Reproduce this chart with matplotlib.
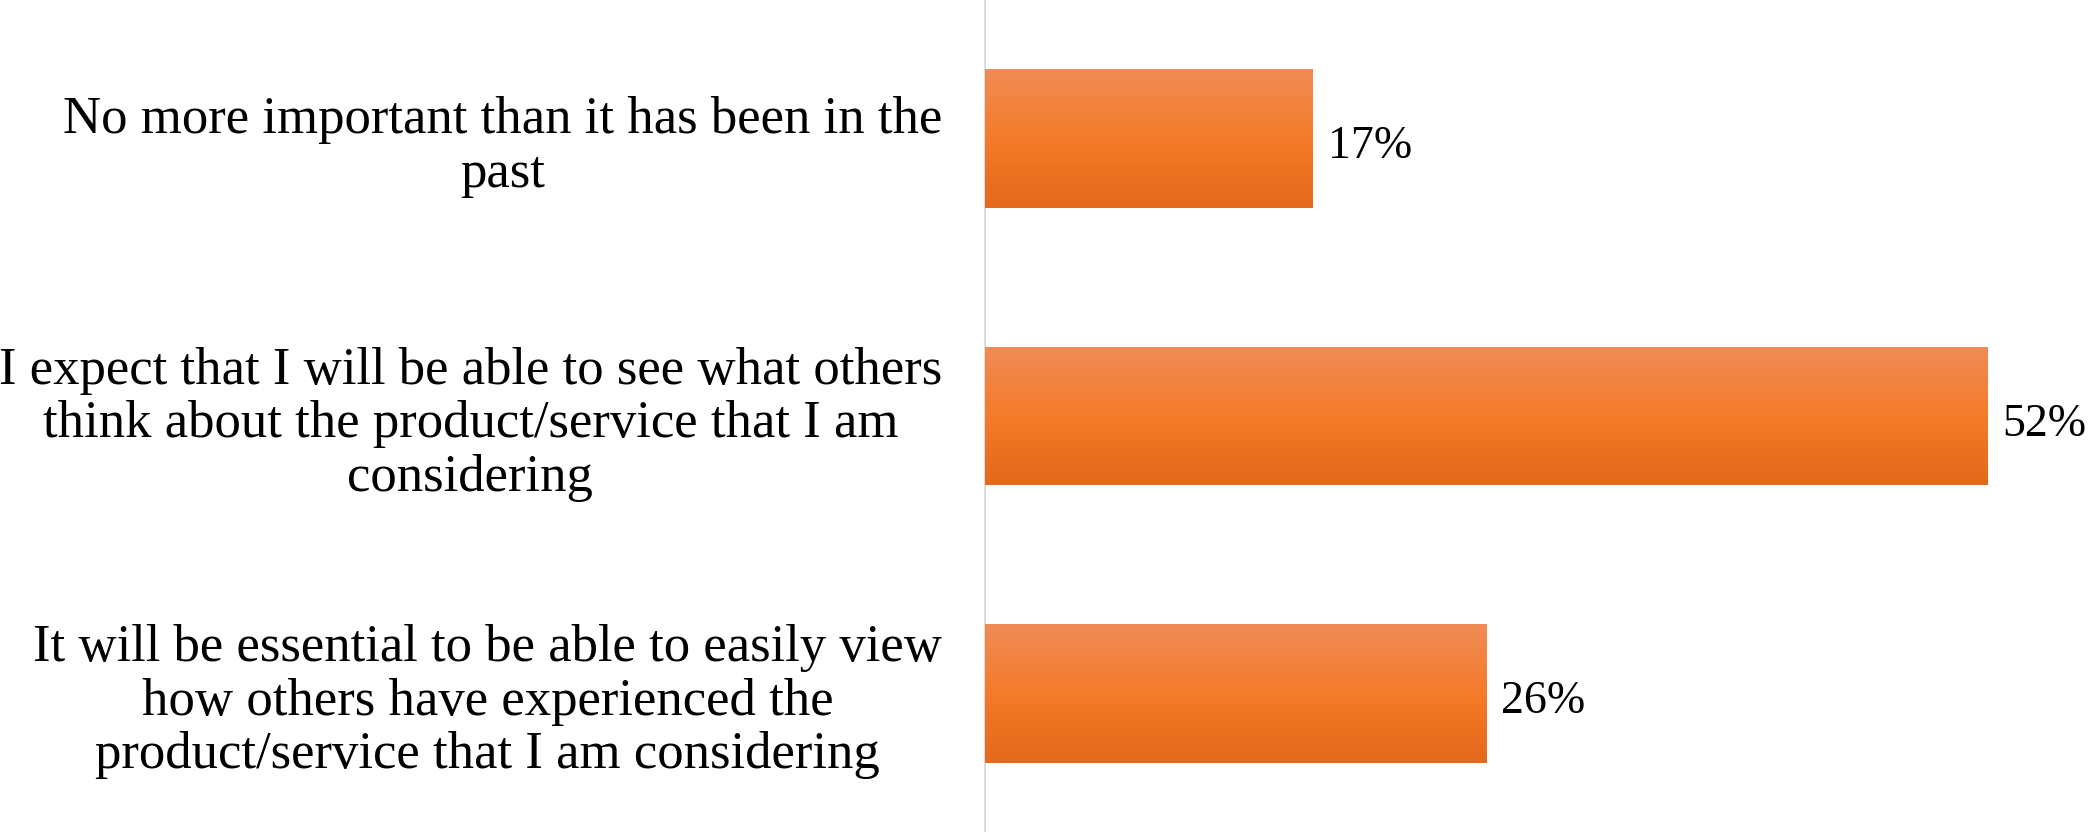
import matplotlib.pyplot as plt
import numpy as np
from matplotlib.colors import LinearSegmentedColormap

# Respostas (de cima para baixo)
categorias = [
    "No more important than it has been in the\npast",
    "I expect that I will be able to see what others\nthink about the product/service that I am\nconsidering",
    "It will be essential to be able to easily view\nhow others have experienced the\nproduct/service that I am considering",
]
valores = [17, 52, 26]
rotulos = ["17%", "52%", "26%"]

# Degradê laranja das barras (topo claro -> base escura)
degrade = LinearSegmentedColormap.from_list(
    "laranja", ["#F08C57", "#F47B2A", "#E4691A"])

fig = plt.figure(figsize=(20.93, 8.32), dpi=100)
ax = fig.add_axes([0.4706, 0.0, 0.5294, 1.0])

pos = np.arange(len(categorias))
barras = ax.barh(pos, valores, height=0.5, color="#F47B2A", zorder=2)

# Preenche cada barra com o degradê vertical
grad = np.linspace(0, 1, 256).reshape(-1, 1)
for b in barras:
    x0, y0 = b.get_x(), b.get_y()
    w, h = b.get_width(), b.get_height()
    im = ax.imshow(grad, cmap=degrade, aspect="auto",
                   extent=(x0, x0 + w, y0 + h, y0), zorder=3)
    im.set_clip_path(b)
    b.set_visible(False)
ax.set_xlim(0, 57.5)
ax.set_ylim(2.5, -0.5)

# Rótulos de valor
for p, v, r in zip(pos, valores, rotulos):
    ax.text(v + 0.8, p + 0.03, r, va="center", ha="left",
            fontsize=33, family="Liberation Serif", color="black")

ax.set_yticks(pos)
ax.set_yticklabels(categorias, fontsize=38, family="Liberation Serif",
                   multialignment="center", linespacing=1.15)
ax.tick_params(axis="y", length=0, pad=31)
ax.set_xticks([])

for lado in ["top", "right", "bottom"]:
    ax.spines[lado].set_visible(False)
ax.spines["left"].set_color("#D9DDE3")
ax.spines["left"].set_linewidth(1.5)

fig.savefig("out.png", dpi=100, facecolor="white")
